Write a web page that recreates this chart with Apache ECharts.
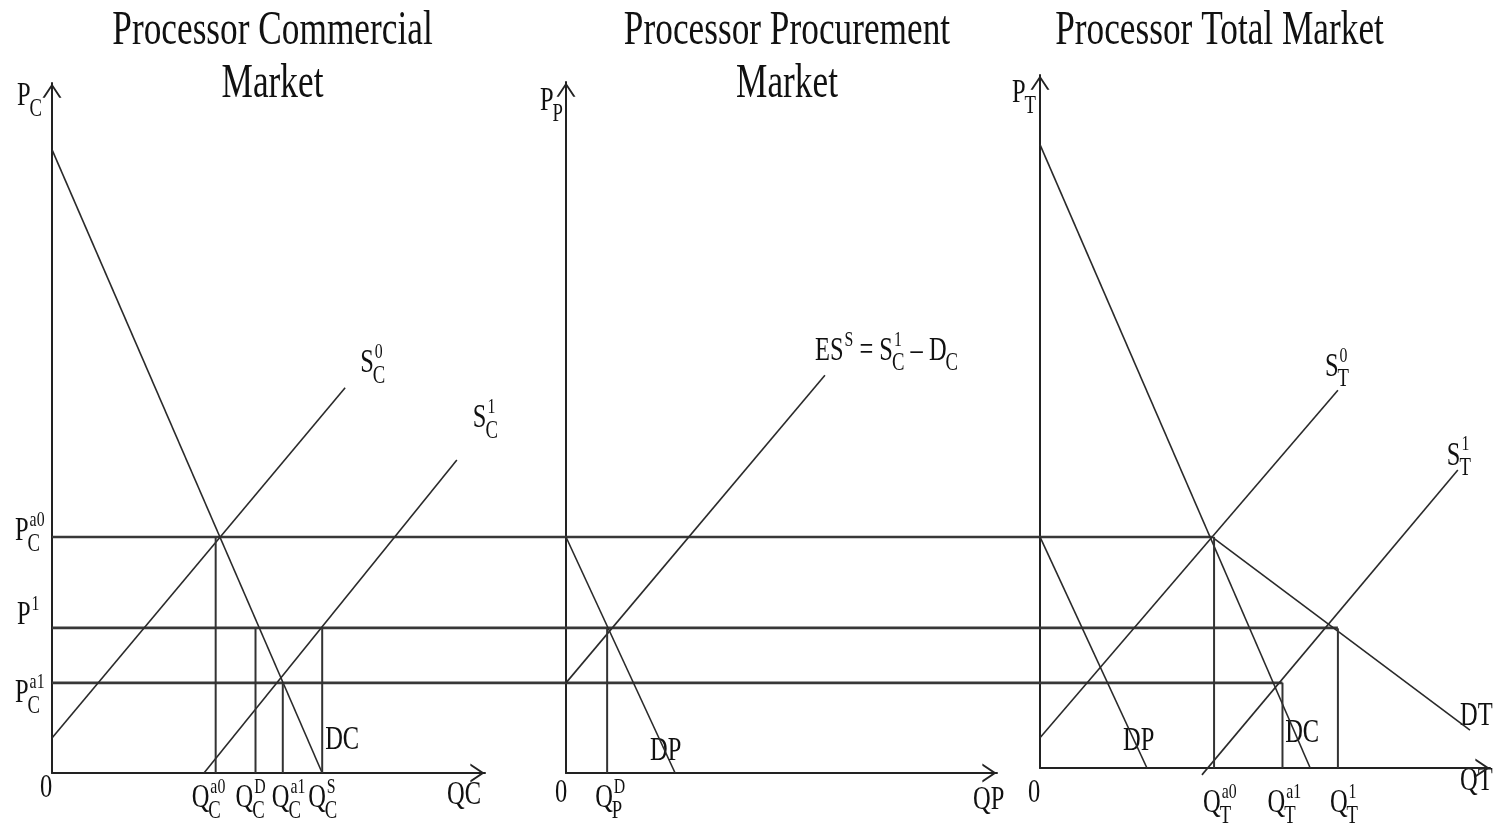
<!DOCTYPE html>
<html>
<head>
<meta charset="utf-8">
<script src="https://cdn.jsdelivr.net/npm/echarts@6/dist/echarts.min.js"></script>
<style>
  html, body { margin: 0; background: #fff; }
  #chart { width: 1498px; height: 830px; }
</style>
</head>
<body>
<div id="chart"></div>
<script>
// ---- values (quantity units, price units) ----
// price levels drawn across all three markets: P_C^a0, P^1, P_C^a1
const priceLevels = [34.3, 21.1, 13.1];
// where each price line stops, in total-market quantity
const priceLineEnds = [39.7, 68.8, 56.0];

// commercial market
const commercialDemand = [[0, 90.6], [62.4, 0]];
const commercialSupply0 = [[0, 5.1], [67.7, 56.0]];
const commercialSupply1 = [[35.1, 0], [93.5, 45.5]];
const commercialQty = [37.8, 47.0, 53.3, 62.4];      // Q_C^a0, Q_C^D, Q_C^a1, Q_C^S
const commercialQtyPrice = [34.3, 21.1, 13.1, 21.1];

// procurement market
const procurementSupply = [[0, 13.1], [59.8, 57.8]];
const procurementDemand = [[0, 34.3], [25.2, 0]];
const procurementQty = [9.5];                        // Q_P^D
const procurementQtyPrice = [21.1];

// total market (its own axes sit a little higher)
const totalDemandC = [[0, 90.6], [62.4, 0]];
const totalDemandT = [[39.7, 33.6], [99.3, 5.5]];
const totalDemandP = [[0, 33.6], [24.7, 0]];
const totalSupply0 = [[0, 4.4], [68.8, 54.9]];
const totalSupply1 = [[37.4, -1.0], [96.5, 43.3]];
const totalQty = [40.2, 56.0, 68.8];                 // Q_T^a0, Q_T^a1, Q_T^1
const totalQtyPrice = [33.6, 12.4, 20.3];

const titles = [['Processor Commercial', 'Market'], ['Processor Procurement', 'Market'], ['Processor Total Market']];

// ---- layout ----
const PXQ = 4.33;   // px per quantity unit
const PXP = 6.88;   // px per price unit
const panels = [
  { left: 52, top: 83, right: 485, bottom: 773 },
  { left: 566, top: 82, right: 997, bottom: 773 },
  { left: 1040, top: 75, right: 1490, bottom: 768 }
];
const overlay = { left: 52, top: 83, right: 1490, bottom: 773 };
const xMax = panels.map(p => (p.right - p.left) / PXQ);
const yMax = panels.map(p => (p.bottom - p.top) / PXP);
const ovMin = -(panels[2].left - overlay.left) / PXQ;

const INK = '#2a2a2a';
const ARROW = 'path://M0,15 L10,0 L20,15 L17.6,15 L10,3.6 L2.4,15 Z';

const grids = panels.concat([overlay]).map(p => ({
  left: p.left, top: p.top, width: p.right - p.left, height: p.bottom - p.top,
  outerBoundsMode: 'none'
}));

function axisLine(show) {
  return {
    show: show, onZero: false,
    symbol: ['none', ARROW], symbolSize: [19, 15], symbolOffset: [0, -7.5],
    lineStyle: { color: '#222', width: 2 }
  };
}
const xAxes = panels.map((p, i) => ({
  gridIndex: i, type: 'value', min: 0, max: xMax[i],
  axisLine: axisLine(true), axisTick: { show: false }, axisLabel: { show: false }, splitLine: { show: false }
}));
xAxes.push({ gridIndex: 3, type: 'value', min: ovMin, max: xMax[2], show: false });
const yAxes = panels.map((p, i) => ({
  gridIndex: i, type: 'value', min: 0, max: yMax[i],
  axisLine: axisLine(true), axisTick: { show: false }, axisLabel: { show: false }, splitLine: { show: false }
}));
yAxes.push({ gridIndex: 3, type: 'value', min: 0, max: yMax[0], show: false });

function seg(g, pts, width, color) {
  return {
    type: 'line', xAxisIndex: g, yAxisIndex: g, data: pts, showSymbol: false, clip: false,
    silent: true, lineStyle: { color: color || INK, width: width }
  };
}
function drops(g, qs, ps) {
  return qs.map((q, i) => seg(g, [[q, 0], [q, ps[i]]], 2, '#333'));
}

const series = [];
priceLevels.forEach((p, i) => series.push(seg(3, [[ovMin, p], [priceLineEnds[i], p]], 2.6, '#383838')));
series.push(seg(0, commercialDemand, 1.6), seg(0, commercialSupply0, 1.6), seg(0, commercialSupply1, 1.6));
series.push(...drops(0, commercialQty, commercialQtyPrice));
series.push(seg(1, procurementSupply, 1.6), seg(1, procurementDemand, 1.6));
series.push(...drops(1, procurementQty, procurementQtyPrice));
series.push(seg(2, totalDemandC, 1.6), seg(2, totalDemandT, 1.6), seg(2, totalDemandP, 1.6),
  seg(2, totalSupply0, 1.6), seg(2, totalSupply1, 1.6));
series.push(...drops(2, totalQty, totalQtyPrice));

const chart = echarts.init(document.getElementById('chart'));
chart.setOption({
  animation: false,
  backgroundColor: '#fff',
  grid: grids,
  xAxis: xAxes,
  yAxis: yAxes,
  series: series
});

// ---- text: narrow serif, as in the picture ----
const SX = 0.72, FM = 34, FSUB = 26, FSUP = 22, FT = 49;
const FONT = '"Liberation Serif", "Times New Roman", serif';
const ctx = document.createElement('canvas').getContext('2d');
function textW(t, size) {
  ctx.font = size + 'px ' + FONT;
  return ctx.measureText(t).width * SX;
}
function txt(t, x, base, size, align) {
  return {
    type: 'text', x: x, y: base - 0.3375 * size, scaleX: SX, silent: true,
    style: { text: t, fontSize: size, fontFamily: FONT, fill: '#111', align: align || 'left', verticalAlign: 'middle' }
  };
}

// labels: anchored on a data point of a panel, then shifted in px
const labels = [
  { g: 0, at: [0, yMax[0]], dx: -35, dy: 25, parts: ['P', { sub: 'C' }] },
  { g: 0, at: [0, priceLevels[0]], dx: -37, dy: 6, parts: ['P', { sub: 'C', sup: 'a0' }] },
  { g: 0, at: [0, priceLevels[1]], dx: -35, dy: -1, parts: ['P', { sup: '1' }] },
  { g: 0, at: [0, priceLevels[2]], dx: -37, dy: 22, parts: ['P', { sub: 'C', sup: 'a1' }] },
  { g: 0, at: [0, 0], dx: -12, dy: 27, parts: ['0'] },
  { g: 0, at: [commercialQty[0], 0], dx: -24, dy: 37, parts: ['Q', { sub: 'C', sup: 'a0' }] },
  { g: 0, at: [commercialQty[1], 0], dx: -20, dy: 37, parts: ['Q', { sub: 'C', sup: 'D' }] },
  { g: 0, at: [commercialQty[2], 0], dx: -11, dy: 37, parts: ['Q', { sub: 'C', sup: 'a1' }] },
  { g: 0, at: [commercialQty[3], 0], dx: -14, dy: 37, parts: ['Q', { sub: 'C', sup: 'S' }] },
  { g: 0, at: [xMax[0], 0], dx: -38, dy: 34, parts: ['QC'] },
  { g: 0, at: commercialDemand[1], dx: 3, dy: -21, parts: ['DC'] },
  { g: 0, at: commercialSupply0[1], dx: 15, dy: -13, parts: ['S', { sub: 'C', sup: '0' }] },
  { g: 0, at: commercialSupply1[1], dx: 16, dy: -30, parts: ['S', { sub: 'C', sup: '1' }] },

  { g: 1, at: [0, yMax[1]], dx: -26, dy: 31, parts: ['P', { sub: 'P' }] },
  { g: 1, at: [0, 0], dx: -11, dy: 32, parts: ['0'] },
  { g: 1, at: [procurementQty[0], 0], dx: -12, dy: 37, parts: ['Q', { sub: 'P', sup: 'D' }] },
  { g: 1, at: procurementDemand[1], dx: -25, dy: -10, parts: ['DP'] },
  { g: 1, at: [xMax[1], 0], dx: -24, dy: 39, parts: ['QP'] },
  { g: 1, at: procurementSupply[1], dx: -10, dy: -13,
    parts: ['ES', { sup: 'S' }, ' = S', { sub: 'C', sup: '1' }, ' \u2013 D', { sub: 'C' }] },

  { g: 2, at: [0, yMax[2]], dx: -28, dy: 30, parts: ['P', { sub: 'T' }] },
  { g: 2, at: [0, 0], dx: -12, dy: 37, parts: ['0'] },
  { g: 2, at: [totalQty[0], 0], dx: -11, dy: 47, parts: ['Q', { sub: 'T', sup: 'a0' }] },
  { g: 2, at: [totalQty[1], 0], dx: -15, dy: 47, parts: ['Q', { sub: 'T', sup: 'a1' }] },
  { g: 2, at: [totalQty[2], 0], dx: -8, dy: 47, parts: ['Q', { sub: 'T', sup: '1' }] },
  { g: 2, at: [xMax[2], 0], dx: -30, dy: 25, parts: ['QT'] },
  { g: 2, at: totalDemandP[1], dx: -24, dy: -15, parts: ['DP'] },
  { g: 2, at: totalDemandC[1], dx: -25, dy: -23, parts: ['DC'] },
  { g: 2, at: totalDemandT[1], dx: -10, dy: -3, parts: ['DT'] },
  { g: 2, at: totalSupply0[1], dx: -13, dy: -12, parts: ['S', { sub: 'T', sup: '0' }] },
  { g: 2, at: totalSupply1[1], dx: -11, dy: -3, parts: ['S', { sub: 'T', sup: '1' }] }
];

const graphics = [];
labels.forEach(l => {
  const pt = chart.convertToPixel({ gridIndex: l.g }, l.at);
  let x = pt[0] + l.dx;
  const base = pt[1] + l.dy;
  l.parts.forEach(part => {
    if (typeof part === 'string') {
      graphics.push(txt(part, x, base, FM));
      x += textW(part, FM);
    } else {
      let wd = 0;
      if (part.sub) {
        graphics.push(txt(part.sub, x - 1, base + 10, FSUB));
        wd = Math.max(wd, textW(part.sub, FSUB) - 1);
      }
      if (part.sup) {
        graphics.push(txt(part.sup, x + 1, base - 15, FSUP));
        wd = Math.max(wd, textW(part.sup, FSUP) + 1);
      }
      x += wd;
    }
  });
});

const titleCenters = [272.5, 787, 1219.5];
const titleBaselines = [48, 101];
titles.forEach((lines, i) => {
  lines.forEach((t, j) => graphics.push(txt(t, titleCenters[i], titleBaselines[j], FT, 'center')));
});

chart.setOption({ graphic: graphics });
</script>
</body>
</html>
